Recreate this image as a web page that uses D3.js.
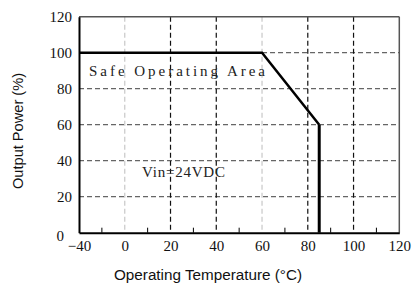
<!DOCTYPE html>
<html><head><meta charset="utf-8">
<script src="https://cdn.jsdelivr.net/npm/d3@7"></script>
<style>html,body{margin:0;padding:0;background:#fff;}svg{display:block;}</style>
</head><body>
<svg id="c" width="413" height="284"></svg>
<script>
const xTicks = [-40, 0, 20, 40, 60, 80, 100, 120];
const xMinor = [-20, 10, 30, 50, 70, 90, 110];
const yTicks = [0, 20, 40, 60, 80, 100, 120];
const curveTemp = [-40, 60, 85, 85];
const curvePower = [100, 100, 60, 0];
const vGridBlack = [20, 40, 80, 100];
const vGridLight = [0, 60];
const hGrid = [20, 40, 60, 80];
const hGrid100From = 60;

const svg = d3.select("#c");
const L = 79, R = 399.3, T = 16.7, B = 232.7;
const step = (R - L) / 7;
// the drawn axis places -40 one interval before 0
const x = d3.scaleLinear().domain([-40, 0, 120]).range([L, L + step, R]);
const y = d3.scaleLinear().domain([0, 120]).range([B, T]);

const g = svg.append("g");
hGrid.forEach(v => g.append("line").attr("x1", L).attr("x2", R).attr("y1", y(v)).attr("y2", y(v))
  .attr("stroke", "#666").attr("stroke-width", 1.3).attr("stroke-dasharray", "5,3"));
g.append("line").attr("x1", x(hGrid100From)).attr("x2", R).attr("y1", y(100)).attr("y2", y(100))
  .attr("stroke", "#666").attr("stroke-width", 1.3).attr("stroke-dasharray", "5,3");
vGridLight.forEach(v => g.append("line").attr("x1", x(v)).attr("x2", x(v)).attr("y1", T).attr("y2", B)
  .attr("stroke", "#c8c8c8").attr("stroke-width", 1.2).attr("stroke-dasharray", "5,3"));
vGridBlack.forEach(v => g.append("line").attr("x1", x(v)).attr("x2", x(v)).attr("y1", T).attr("y2", B)
  .attr("stroke", "#111").attr("stroke-width", 1.2).attr("stroke-dasharray", "5,3"));

g.append("line").attr("x1", L).attr("x2", R).attr("y1", T).attr("y2", T).attr("stroke", "#555").attr("stroke-width", 1.5);
g.append("line").attr("x1", R).attr("x2", R).attr("y1", T).attr("y2", B).attr("stroke", "#555").attr("stroke-width", 1.5);

const xAxis = d3.axisBottom(x).tickValues(xTicks).tickSize(0).tickPadding(8).tickFormat(d => d < 0 ? "\u2212" + Math.abs(d) : d);
const xa = svg.append("g").attr("transform", `translate(0,${B})`).call(xAxis);
xa.select(".domain").attr("stroke", "#000").attr("stroke-width", 2);
xa.selectAll("text").attr("font-family", "Liberation Serif").attr("font-size", 15).attr("fill", "#111");
xMinor.forEach(v => svg.append("line").attr("x1", x(v)).attr("x2", x(v)).attr("y1", B).attr("y2", B - 5)
  .attr("stroke", "#000").attr("stroke-width", 1));

const yAxis = d3.axisLeft(y).tickValues(yTicks).tickSize(0).tickPadding(7);
const ya = svg.append("g").attr("transform", `translate(${L},0)`).call(yAxis);
ya.select(".domain").attr("stroke", "#000").attr("stroke-width", 2);
ya.selectAll("text").attr("font-family", "Liberation Serif").attr("font-size", 15).attr("fill", "#111");
ya.selectAll(".tick").filter(d => d === 0).select("text").attr("dx", -8).attr("dy", "0.5em");

const pts = curveTemp.map((t, i) => [t, curvePower[i]]);
svg.append("path").datum(pts.slice(0, 3))
  .attr("d", d3.line().x(d => x(d[0])).y(d => y(d[1])))
  .attr("fill", "none").attr("stroke", "#000").attr("stroke-width", 2.5).attr("stroke-linejoin", "miter");
svg.append("path").datum(pts.slice(2))
  .attr("d", d3.line().x(d => x(d[0])).y(d => y(d[1])))
  .attr("fill", "none").attr("stroke", "#000").attr("stroke-width", 3);

svg.append("text").attr("x", 89).attr("y", 76).attr("textLength", 176).attr("lengthAdjust", "spacing")
  .attr("font-family", "Liberation Serif").attr("font-size", 15).attr("fill", "#222").text("Safe Operating Area");
svg.append("text").attr("x", 142).attr("y", 177).attr("textLength", 83).attr("lengthAdjust", "spacing")
  .attr("font-family", "Liberation Serif").attr("font-size", 15).attr("fill", "#222").text("Vin=24VDC");

svg.append("text").attr("x", 208).attr("y", 280).attr("text-anchor", "middle")
  .attr("textLength", 188).attr("lengthAdjust", "spacingAndGlyphs")
  .attr("font-family", "Liberation Sans").attr("font-size", 14).attr("fill", "#111")
  .text("Operating Temperature (\u00B0C)");
svg.append("text").attr("transform", "translate(23,131) rotate(-90)").attr("text-anchor", "middle")
  .attr("textLength", 116).attr("lengthAdjust", "spacingAndGlyphs")
  .attr("font-family", "Liberation Sans").attr("font-size", 14).attr("fill", "#111")
  .text("Output  Power (%)");
</script>
</body></html>
